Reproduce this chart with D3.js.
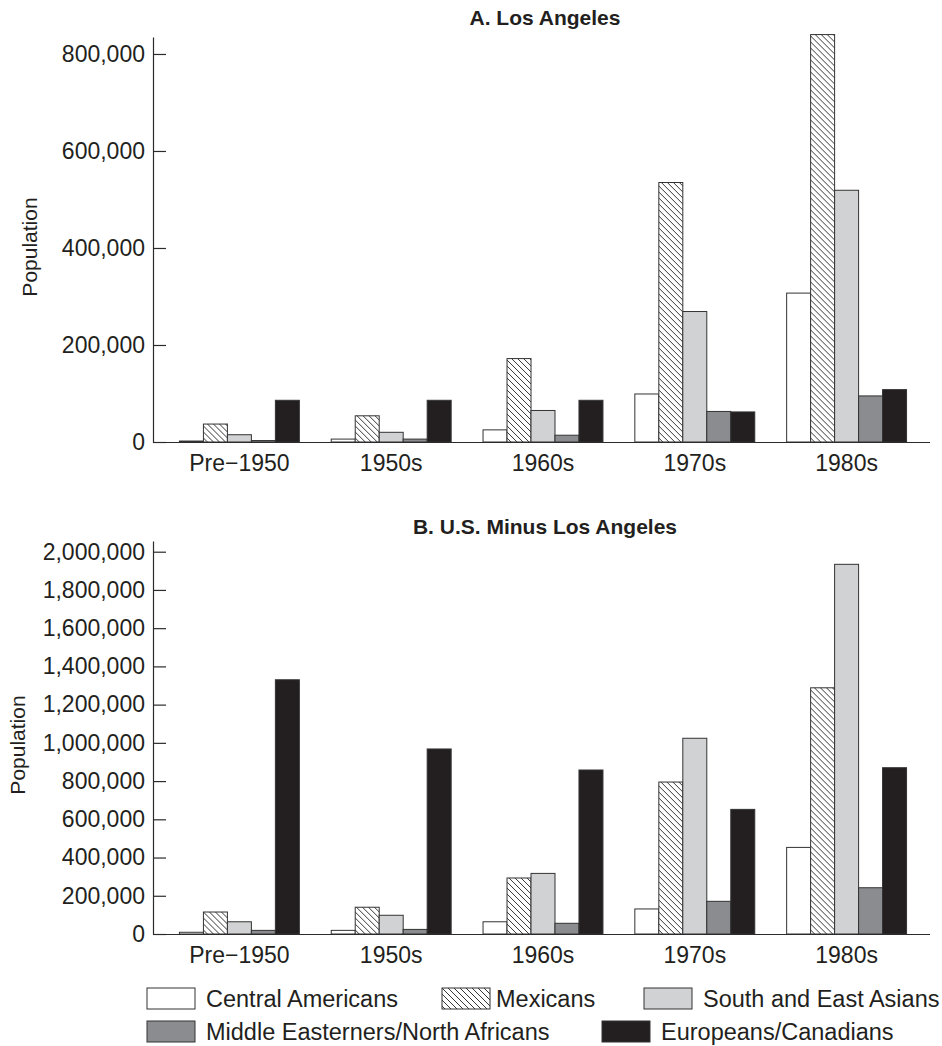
<!DOCTYPE html>
<html>
<head>
<meta charset="utf-8">
<script src="https://cdn.jsdelivr.net/npm/d3@7"></script>
<style>
  body { margin: 0; background: #fff; }
  svg { display: block; font-family: "Liberation Sans", Arial, Helvetica, sans-serif; }
  .axis text { fill: #231f20; font-size: 23px; }
  .axis path, .axis line { stroke: #2b2b2b; stroke-width: 1.2; }
</style>
</head>
<body>
<svg id="chart" width="942" height="1046"></svg>
<script>
// decades on the x axis
var categories = ["Pre\u22121950", "1950s", "1960s", "1970s", "1980s"]
var groups = ["Central Americans", "Mexicans", "South and East Asians", "Middle Easterners/North Africans", "Europeans/Canadians"]

// A. Los Angeles
var laCentral  = [2000, 6000, 25000, 99000, 307000]
var laMexican  = [37000, 54000, 172000, 535000, 840000]
var laAsian    = [15000, 20000, 65000, 269000, 519000]
var laMideast  = [3000, 6000, 14000, 63000, 95000]
var laEurope   = [86000, 86000, 86000, 62000, 108000]
var laTicks    = [0, 200000, 400000, 600000, 800000]

// B. U.S. minus Los Angeles
var usCentral  = [9000, 19000, 64000, 131000, 453000]
var usMexican  = [115000, 140000, 293000, 795000, 1288000]
var usAsian    = [64000, 98000, 317000, 1024000, 1934000]
var usMideast  = [19000, 24000, 56000, 171000, 242000]
var usEurope   = [1330000, 968000, 858000, 652000, 870000]
var usTicks    = [0, 200000, 400000, 600000, 800000, 1000000, 1200000, 1400000, 1600000, 1800000, 2000000]

var fills = ["#ffffff", "url(#hatch)", "#d1d2d4", "#8b8c8f", "#231f20"]

var svg = d3.select('#chart')
var fmt = d3.format(",")

var defs = svg.append('defs')
var pat = defs.append('pattern')
  .attr('id', 'hatch')
  .attr('patternUnits', 'userSpaceOnUse')
  .attr('width', 6).attr('height', 6)
pat.append('rect').attr('width', 6).attr('height', 6).attr('fill', '#fff')
pat.append('path')
  .attr('d', 'M-1,-1 L7,7 M-1,5 L1,7 M5,-1 L7,1')
  .attr('stroke', '#231f20').attr('stroke-width', 0.9)

var axisX = 153, axisRight = 930

var x0 = d3.scaleBand().domain(categories).range([163.5, 922.5]).paddingInner(0.21).paddingOuter(0.105)
var x1 = d3.scaleBand().domain(groups).range([0, x0.bandwidth()])

function drawPanel(p){
  var g = svg.append('g')
  var y = d3.scaleLinear().domain([0, p.yMax]).range([p.base, p.top])

  // bars
  var rows = categories.map(function(c, i){
    return { cat: c, vals: p.series.map(function(s, j){ return { key: groups[j], v: s[i], j: j } }) }
  })
  var cg = g.selectAll('g.cat').data(rows).enter().append('g')
    .attr('transform', function(d){ return 'translate(' + x0(d.cat) + ',0)' })
  cg.selectAll('rect').data(function(d){ return d.vals }).enter().append('rect')
    .attr('x', function(d){ return x1(d.key) })
    .attr('width', x1.bandwidth())
    .attr('y', function(d){ return y(d.v) })
    .attr('height', function(d){ return p.base - y(d.v) })
    .attr('fill', function(d){ return fills[d.j] })
    .attr('stroke', '#333')
    .attr('stroke-width', 1)

  // y axis, ticks pointing inward
  g.append('g').attr('class', 'axis')
    .attr('transform', 'translate(' + axisX + ',0)')
    .call(d3.axisLeft(y).tickValues(p.ticks).tickFormat(fmt).tickSizeInner(-13).tickSizeOuter(0).tickPadding(8))

  // x axis
  g.append('line')
    .attr('x1', axisX).attr('x2', axisRight)
    .attr('y1', p.base + 0.5).attr('y2', p.base + 0.5)
    .attr('stroke', '#2b2b2b').attr('stroke-width', 1.2)
  var xa = g.append('g').attr('class', 'axis')
    .attr('transform', 'translate(0,' + p.base + ')')
    .call(d3.axisBottom(x0).tickSize(0).tickPadding(13))
  xa.select('.domain').remove()

  g.append('text')
    .attr('x', 545).attr('y', p.titleY)
    .attr('text-anchor', 'middle')
    .attr('font-weight', 'bold').attr('font-size', 21)
    .attr('fill', '#231f20')
    .text(p.title)

  g.append('text')
    .attr('transform', 'translate(' + p.labelX + ',' + p.labelY + ') rotate(-90)')
    .attr('text-anchor', 'middle')
    .attr('font-size', 21).attr('fill', '#231f20')
    .text('Population')
}

drawPanel({ title: 'A. Los Angeles', titleY: 25, top: 37, base: 442, yMax: 835000, ticks: laTicks,
  series: [laCentral, laMexican, laAsian, laMideast, laEurope], labelX: 37, labelY: 247 })

drawPanel({ title: 'B. U.S. Minus Los Angeles', titleY: 534, top: 541, base: 934, yMax: 2056000, ticks: usTicks,
  series: [usCentral, usMexican, usAsian, usMideast, usEurope], labelX: 25, labelY: 745 })

// legend
var legendPos = [[147, 988], [442, 988], [644, 988], [147, 1021], [602, 1021]]
var lg = svg.append('g').selectAll('g').data(groups).enter().append('g')
  .attr('transform', function(d, i){ return 'translate(' + legendPos[i][0] + ',' + legendPos[i][1] + ')' })
lg.append('rect')
  .attr('width', 48).attr('height', 21)
  .attr('fill', function(d, i){ return fills[i] })
  .attr('stroke', '#333').attr('stroke-width', 1)
lg.append('text')
  .attr('x', function(d, i){ return i == 1 ? 54 : 59 })
  .attr('y', 19)
  .attr('font-size', 23.5).attr('fill', '#231f20')
  .text(function(d){ return d })
</script>
</body>
</html>
